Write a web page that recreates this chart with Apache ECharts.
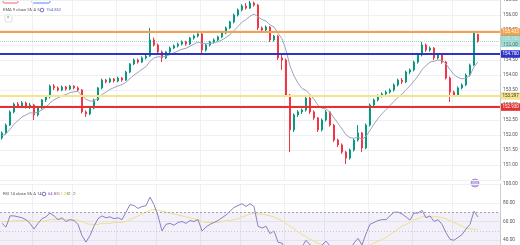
<!DOCTYPE html>
<html><head><meta charset="utf-8">
<script src="https://cdn.jsdelivr.net/npm/echarts@6/dist/echarts.min.js"></script>
<style>html,body{margin:0;padding:0;background:#fff}#c{width:520px;height:245px}</style>
</head><body><div id="c"></div>
<script>
const categories = Array.from({length:125}, (_, i) => 'b' + i);
const opens = [151.90,152.07,152.33,152.77,153.03,152.97,153.07,152.93,153.00,152.67,
152.90,153.17,153.27,153.63,153.57,153.50,153.60,153.53,153.63,153.57,
153.50,152.77,152.70,152.90,153.17,153.57,153.83,153.77,153.87,153.80,
153.90,153.83,154.10,154.37,154.50,154.43,154.57,154.63,155.17,155.00,
154.77,154.57,154.77,154.90,154.97,155.03,155.10,155.03,155.23,155.30,
155.37,154.83,155.00,155.10,155.17,155.27,155.40,155.57,155.77,156.00,
156.17,156.30,156.23,156.40,156.33,155.57,155.50,155.60,155.17,155.30,
154.57,154.50,153.33,152.17,152.67,152.77,152.83,153.23,152.77,152.57,
152.17,152.50,152.77,152.33,151.83,151.67,151.43,151.23,151.50,151.83,
152.07,151.57,152.33,153.00,153.17,153.30,153.37,153.43,153.50,153.67,
153.83,153.77,154.10,154.17,154.43,154.67,155.00,154.83,154.90,154.57,
154.67,154.43,153.90,153.43,153.33,153.57,153.67,154.00,154.33,155.35];
const closes = [152.07,152.33,152.77,153.03,152.97,153.07,152.93,153.00,152.67,152.90,
153.17,153.27,153.63,153.57,153.50,153.60,153.53,153.63,153.57,153.50,
152.77,152.70,152.90,153.17,153.57,153.83,153.77,153.87,153.80,153.90,
153.83,154.10,154.37,154.50,154.43,154.57,154.63,155.17,155.00,154.77,
154.57,154.77,154.90,154.97,155.03,155.10,155.03,155.23,155.30,155.37,
154.83,155.00,155.10,155.17,155.27,155.40,155.57,155.77,156.00,156.17,
156.30,156.23,156.40,156.33,155.57,155.50,155.60,155.17,155.30,154.57,
154.50,153.33,152.17,152.67,152.77,152.83,153.23,152.77,152.57,152.17,
152.50,152.77,152.33,151.83,151.67,151.43,151.23,151.50,151.83,152.07,
151.57,152.33,153.00,153.17,153.30,153.37,153.43,153.50,153.67,153.83,
153.77,154.10,154.17,154.43,154.67,155.00,154.83,154.90,154.57,154.67,
154.43,153.90,153.43,153.33,153.57,153.67,154.00,154.33,155.40,155.13];
const lows = [151.85,152.02,152.30,152.72,152.90,152.93,152.88,152.87,152.50,152.62,
152.86,153.10,153.22,153.50,153.45,153.46,153.48,153.50,153.52,153.45,
152.72,152.60,152.66,152.86,153.13,153.52,153.72,153.73,153.75,153.76,
153.78,153.80,154.06,154.33,154.38,154.40,154.52,154.60,154.95,154.72,
154.43,154.53,154.73,154.86,154.92,154.99,154.98,155.00,155.18,155.25,
154.67,154.78,154.95,155.05,155.12,155.23,155.36,155.53,155.72,155.95,
156.12,156.18,156.20,156.28,155.50,155.40,155.45,155.10,155.12,154.50,
154.17,153.27,151.43,152.10,152.60,152.70,152.78,152.70,152.50,152.10,
152.12,152.45,152.28,151.77,151.60,151.37,151.03,151.18,151.45,151.78,
151.43,151.53,152.28,152.93,153.12,153.25,153.32,153.38,153.45,153.62,
153.70,153.73,154.03,154.12,154.38,154.62,154.77,154.78,154.50,154.52,
154.38,153.85,153.10,153.27,153.28,153.52,153.63,153.95,154.30,155.08];
const highs = [152.12,152.38,152.82,153.08,153.10,153.13,153.12,153.07,153.04,152.95,
153.20,153.33,153.68,153.70,153.62,153.65,153.64,153.67,153.66,153.62,
153.53,152.82,152.94,153.21,153.60,153.88,153.87,153.91,153.90,153.94,
153.93,154.14,154.40,154.55,154.55,154.62,154.67,155.57,155.25,155.05,
154.82,154.80,154.95,155.02,155.08,155.15,155.14,155.27,155.35,155.45,
155.40,155.04,155.14,155.22,155.31,155.44,155.62,155.81,156.05,156.22,
156.36,156.40,156.47,156.45,156.37,155.62,155.65,155.63,155.34,155.33,
154.67,154.55,153.37,152.72,152.83,152.88,153.30,153.27,152.82,152.60,
152.55,152.83,152.80,152.37,151.88,151.72,151.47,151.55,151.88,152.33,
152.10,152.38,153.05,153.22,153.35,153.42,153.48,153.55,153.72,153.88,
153.90,154.15,154.22,154.48,154.72,155.10,155.05,154.95,154.93,154.72,
154.70,154.47,153.95,153.48,153.62,153.72,154.05,154.38,155.47,155.38];
const ema = [151.97,152.04,152.19,152.36,152.48,152.60,152.67,152.74,152.73,152.76,
152.84,152.93,153.07,153.17,153.24,153.31,153.35,153.41,153.44,153.45,
153.31,153.19,153.13,153.14,153.23,153.35,153.43,153.52,153.58,153.64,
153.68,153.76,153.88,154.00,154.09,154.19,154.28,154.46,154.57,154.61,
154.60,154.63,154.68,154.74,154.80,154.86,154.89,154.96,155.03,155.10,
155.05,155.04,155.05,155.07,155.11,155.17,155.25,155.35,155.48,155.62,
155.76,155.85,155.96,156.03,155.94,155.85,155.80,155.67,155.60,155.39,
155.21,154.83,154.30,153.97,153.73,153.55,153.49,153.35,153.19,152.99,
152.89,152.87,152.76,152.57,152.39,152.20,152.01,151.91,151.89,151.93,
151.86,151.95,152.16,152.36,152.55,152.71,152.85,152.98,153.12,153.26,
153.36,153.51,153.64,153.80,153.97,154.18,154.31,154.43,154.46,154.50,
154.49,154.37,154.18,154.01,153.92,153.87,153.90,153.99,154.27,154.44];
const rsi = [58,54,66,66,65,64,62,58,52,58,
63,65,69,66,62,64,60,62,61,57,
45,38,45,55,63,66,64,65,63,64,
62,70,78,77,74,76,77,86,78,66,
50,57,58,56,59,60,58,61,60,62,
50,54,57,59,61,64,67,71,75,77,
79,76,79,76,55,53,55,47,50,38,
37,28,20,30,32,33,40,35,33,29,
35,39,34,29,27,25,23,30,37,42,
35,47,57,59,61,62,62,66,70,70,
68,65,61.5,69,69,72,64,66,60,62,
57,48,41,40,43,46,52,57,71,64.85];
const rsiMa = [60,60,60,61,61,61,61,61,60,60,
60,61,62,62,62,62,62,62,62,61,
60,58,57,57,57,58,58,58,59,59,
59,60,62,64,66,68,70,72,73,72,
71,70,69,68,67,66,65,64,63,62,
60,59,59,59,59,60,61,61,62,63,
65,66,68,69,68,68,67,66,65,63,
61,58,55,52,49,46,44,41,39,37,
35,34,33,33,32,31,31,31,31,32,
32,33,35,37,39,41,43,46,49,52,
55,57,59,62,63,65,65,65,65,65,
64,63,61,59,57,55,53,52,52,51.25];
const levelValues = [155.433, 154.700, 153.297, 152.930];
const levelColors = ['#f5a04a', '#2f34c8', '#f4e58a', '#e5322f'];
const levelTextColors = ['#fff', '#fff', '#333', '#fff'];
const gridIdx = [8, 18, 29, 39, 50, 60, 71, 81, 92, 103, 113];
const lastLabel = '155.130\n12:48';
const emaLegendValue = '154.852';
const rsiLegendValues = ['64.85', '51.25'];

const ohlc = opens.map((o, i) => [o, closes[i], lows[i], highs[i]]);
const chart = echarts.init(document.getElementById('c'), null, {renderer: 'canvas'});
const gridLineColor = '#eef0f5';
const splitX = {show: true, interval: (idx) => gridIdx.includes(idx), lineStyle: {color: gridLineColor, width: 1}};
const levelLines = levelValues.map((v, k) => ({
  yAxis: v,
  lineStyle: {color: levelColors[k], width: 2, type: 'solid'},
  label: {show: true, position: 'end', distance: 1, formatter: v.toFixed(3),
    backgroundColor: levelColors[k], color: levelTextColors[k], fontSize: 4.5,
    fontFamily: 'Roboto', padding: [1.5, 1.5, 1, 1.5]}
}));
levelLines.push({
  yAxis: closes[closes.length - 1],
  lineStyle: {color: '#26a69a', width: 1, type: 'dotted', opacity: 0.45},
  label: {show: true, position: 'end', distance: 1, formatter: lastLabel,
    backgroundColor: '#26a69a', color: '#fff', fontSize: 4.5, lineHeight: 5,
    fontFamily: 'Roboto', padding: [1, 1.5, 1, 1.5]}
});

chart.setOption({
  animation: false,
  backgroundColor: '#ffffff',
  grid: [
    {left: 0, right: 20, top: 0, height: 180, outerBoundsMode: 'none', containLabel: false},
    {left: 0, right: 20, top: 184, height: 75, outerBoundsMode: 'none', containLabel: false}
  ],
  xAxis: [
    {type: 'category', gridIndex: 0, data: categories, boundaryGap: true,
     axisLine: {show: false}, axisTick: {show: false}, axisLabel: {show: false}, splitLine: splitX},
    {type: 'category', gridIndex: 1, data: categories, boundaryGap: true,
     axisLine: {show: false}, axisTick: {show: false}, axisLabel: {show: false}, splitLine: splitX}
  ],
  yAxis: [
    {type: 'value', gridIndex: 0, position: 'right', min: 150.5, max: 156.5, interval: 0.5,
     axisLine: {show: true, lineStyle: {color: '#c9ccd3'}}, axisTick: {show: false},
     axisLabel: {fontSize: 4.8, color: '#555', margin: 3, fontFamily: 'Roboto',
       showMinLabel: false, formatter: v => v.toFixed(2)},
     splitLine: {lineStyle: {color: gridLineColor}}},
    {type: 'value', gridIndex: 1, position: 'right', min: 20, max: 100, interval: 20,
     axisLine: {show: true, lineStyle: {color: '#c9ccd3'}}, axisTick: {show: false},
     axisLabel: {fontSize: 4.8, color: '#555', margin: 3, fontFamily: 'Roboto',
       formatter: v => v.toFixed(2)},
     splitLine: {lineStyle: {color: gridLineColor}}}
  ],
  series: [
    {type: 'candlestick', xAxisIndex: 0, yAxisIndex: 0, data: ohlc, barWidth: 2.4,
     itemStyle: {color: '#089981', color0: '#f23645', borderColor: '#089981', borderColor0: '#f23645', borderWidth: 1},
     markLine: {silent: true, symbol: ['none', 'none'], animation: false, data: levelLines}},
    {type: 'line', xAxisIndex: 0, yAxisIndex: 0, data: ema, showSymbol: false, smooth: false,
     lineStyle: {color: '#9ea3bb', width: 1}, z: 3},
    {type: 'line', xAxisIndex: 1, yAxisIndex: 1, data: rsiMa, showSymbol: false,
     lineStyle: {color: '#efe08a', width: 1}},
    {type: 'line', xAxisIndex: 1, yAxisIndex: 1, data: rsi, showSymbol: false,
     lineStyle: {color: '#8a80bf', width: 1},
     markArea: {silent: true, itemStyle: {color: 'rgba(126,87,194,0.09)'}, data: [[{yAxis: 70}, {yAxis: 30}]]},
     markLine: {silent: true, symbol: ['none', 'none'], label: {show: false},
       data: [
         {yAxis: 70, lineStyle: {color: '#a3a0b5', type: [2, 2], width: 1}},
         {yAxis: 50, lineStyle: {color: '#c9c6d6', type: [1, 2], width: 1}}
       ]}}
  ],
  graphic: [
    {type: 'rect', shape: {x: 3, y: -6, width: 15, height: 9, r: 1.5}, style: {fill: '#fff', stroke: '#f23645', lineWidth: 0.8}},
    {type: 'rect', shape: {x: 32, y: -6, width: 18, height: 9, r: 1.5}, style: {fill: '#fff', stroke: '#2962ff', lineWidth: 0.8}},
    {type: 'text', style: {x: 6, y: -3.5, text: 'SELL', fontSize: 4, fill: '#f23645', fontFamily: 'Roboto'}},
    {type: 'text', style: {x: 36, y: -3.5, text: 'BUY', fontSize: 4, fill: '#2962ff', fontFamily: 'Roboto'}},
    {type: 'text', style: {x: 3, y: 8, text: 'EMA 9 close SMA 5', fontSize: 4.2, fill: '#555', fontFamily: 'Roboto'}},
    {type: 'circle', shape: {cx: 42, cy: 10, r: 1.8}, style: {fill: '#fff', stroke: '#5b5fd6', lineWidth: 0.9}},
    {type: 'text', style: {x: 46, y: 8, text: emaLegendValue, fontSize: 4.2, fill: '#5b6bc0', fontFamily: 'Roboto'}},
    {type: 'rect', shape: {x: 5, y: 15, width: 7, height: 7, r: 1}, style: {fill: '#fff', stroke: '#d6d8de', lineWidth: 0.8}},
    {type: 'text', style: {x: 7, y: 16.5, text: '^', fontSize: 5, fill: '#555', fontFamily: 'Roboto'}},
    {type: 'text', style: {x: 3, y: 192, text: 'RSI 14 close SMA 14', fontSize: 4.2, fill: '#555', fontFamily: 'Roboto'}},
    {type: 'circle', shape: {cx: 44, cy: 194, r: 1.8}, style: {fill: '#fff', stroke: '#7e57c2', lineWidth: 0.9}},
    {type: 'text', style: {x: 48, y: 192, text: rsiLegendValues[0], fontSize: 4.2, fill: '#7e57c2', fontFamily: 'Roboto'}},
    {type: 'text', style: {x: 58, y: 192, text: rsiLegendValues[1], fontSize: 4.2, fill: '#d9c23a', fontFamily: 'Roboto'}},
    {type: 'text', style: {x: 67, y: 192, text: '∅ ∅', fontSize: 4.2, fill: '#555', fontFamily: 'DejaVu Sans'}},
    {type: 'circle', shape: {cx: 475, cy: 183, r: 4}, style: {fill: '#c9b6e6', stroke: '#9a7fd0', lineWidth: 0.8}}
  ]
});
</script></body></html>
